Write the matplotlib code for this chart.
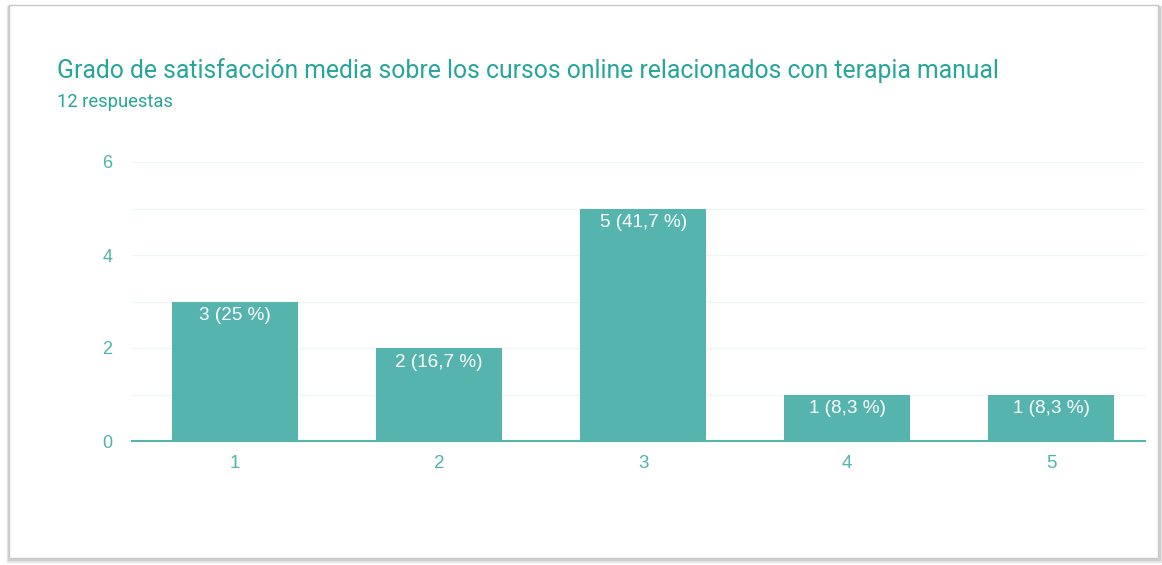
import matplotlib

matplotlib.use("Agg")
import matplotlib.pyplot as plt
from matplotlib.patches import Rectangle

# data
categories = ["1", "2", "3", "4", "5"]
counts = [3, 2, 5, 1, 1]
bar_labels = ["3 (25 %)", "2 (16,7 %)", "5 (41,7 %)", "1 (8,3 %)", "1 (8,3 %)"]
y_ticks = [0, 2, 4, 6]

TITLE = "Grado de satisfacción media sobre los cursos online relacionados con terapia manual"
SUBTITLE = "12 respuestas"

TEAL = "#26a69a"
BAR = "#56b4ae"
TICK = "#4db6ac"

W, H = 1162, 565
fig = plt.figure(figsize=(W / 100, H / 100), dpi=100)
fig.patch.set_facecolor("white")

# card outline with soft shadow
for off, col in [(3, "#e6e6e6"), (1.5, "#d0d0d0")]:
    fig.patches.append(Rectangle((9 / W, (H - 558 - off) / H), (1149 + off) / W, 553 / H,
                                 transform=fig.transFigure, fill=False, ec=col, lw=off, zorder=-2))
fig.patches.append(Rectangle((9 / W, (H - 558) / H), 1149 / W, 553 / H,
                             transform=fig.transFigure, fill=True, fc="white", ec="#c8c8c8", lw=1.0, zorder=-1))

fig.text(57 / W, 1 - 71 / H, TITLE, color=TEAL, fontsize=17.8, family="Roboto", va="center", ha="left")
fig.text(57 / W, 1 - 102 / H, SUBTITLE, color=TEAL, fontsize=13.2, family="Roboto", va="center", ha="left")

ax = fig.add_axes([132 / W, 1 - 441 / H, (1145 - 132) / W, (441 - 162) / H])
ax.set_zorder(2)
ax.patch.set_alpha(0)
x = list(range(len(categories)))
bars = ax.bar(x, counts, width=0.62, color=BAR, zorder=3)
for rect, lab in zip(bars, bar_labels):
    ax.annotate(lab, (rect.get_x() + rect.get_width() / 2, rect.get_height()),
                xytext=(0, -4), textcoords="offset points", ha="center", va="top",
                color="white", fontsize=13.6, family="Liberation Sans", zorder=4)

ax.set_xlim(-0.505, 4.46)
ax.set_ylim(0, 6)
ax.set_xticks(x)
ax.set_xticklabels(categories)
ax.set_yticks(y_ticks)
ax.set_yticks([1, 3, 5], minor=True)
ax.grid(axis="y", which="both", color="#eef7f6", lw=1, zorder=0)
for side in ["top", "right", "left"]:
    ax.spines[side].set_visible(False)
ax.spines["bottom"].set_color(BAR)
ax.spines["bottom"].set_linewidth(1.5)
ax.tick_params(axis="both", which="both", length=0, labelcolor=TICK)
ax.tick_params(axis="x", pad=10, labelsize=13.5)
ax.tick_params(axis="y", pad=14, labelsize=13)
for t in ax.get_xticklabels() + ax.get_yticklabels():
    t.set_family("Liberation Sans")

fig.savefig("out.png", dpi=100)
